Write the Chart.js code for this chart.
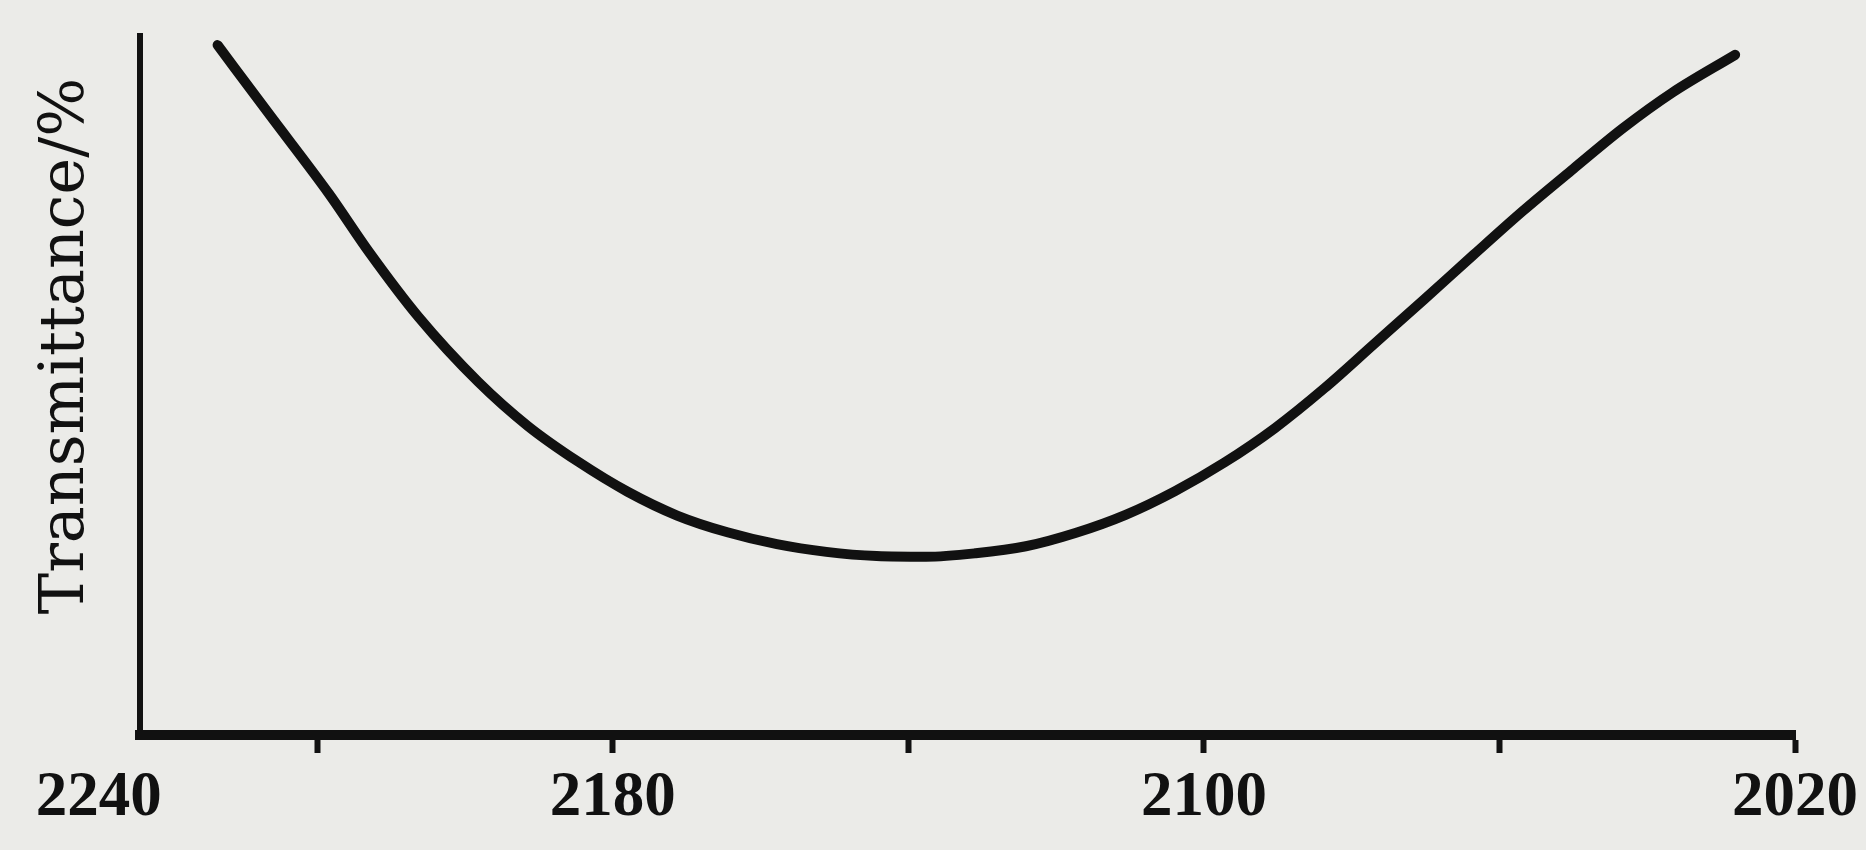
<!DOCTYPE html>
<html>
<head>
<meta charset="utf-8">
<script src="https://cdn.jsdelivr.net/npm/chart.js@4.4.1/dist/chart.umd.min.js"></script>
<style>
  html, body { margin: 0; padding: 0; background: #ebebe8; }
  #wrap { position: relative; width: 1866px; height: 850px; }
</style>
</head>
<body>
<div id="wrap"><canvas id="c"></canvas></div>
<script>
// Wavenumber (cm-1)
const wavenumbers = [2233.5, 2226.5, 2218.4, 2213.0, 2206.3, 2198.2, 2191.5, 2184.7, 2178.0, 2171.3, 2164.5, 2157.8, 2151.1, 2144.3, 2137.6, 2130.9, 2124.1, 2117.4, 2110.6, 2103.9, 2097.2, 2090.4, 2083.7, 2077.0, 2070.2, 2063.5, 2056.8, 2050.0, 2043.3, 2036.6, 2028.1];
// Transmittance (% of axis height, arbitrary)
const transmittance = [98.7, 88.8, 77.4, 69.1, 59.8, 50.5, 44.2, 39.1, 34.8, 31.4, 29.0, 27.3, 26.2, 25.6, 25.5, 26.0, 27.0, 28.9, 31.5, 34.9, 39.0, 43.9, 49.6, 55.9, 62.3, 68.7, 75.0, 81.0, 86.8, 91.9, 97.3];
// Tick marks on the x axis and their labels
const tickValues = [2240, 2220, 2180, 2140, 2100, 2060, 2020];
const tickLabels = ['2240', '', '2180', '', '2100', '', '2020'];
const hiddenTickMarks = [2240];
const yTitle = 'Transmittance/%';

const points = wavenumbers.map((w, i) => ({ x: w, y: transmittance[i] }));
const ink = '#111111';

new Chart(document.getElementById('c'), {
  type: 'line',
  data: {
    datasets: [{
      data: points,
      borderColor: ink,
      borderWidth: 10,
      pointRadius: 0,
      cubicInterpolationMode: 'monotone',
      borderCapStyle: 'round',
      borderJoinStyle: 'round',
      fill: false,
      clip: false
    }]
  },
  options: {
    responsive: true,
    maintainAspectRatio: false,
    animation: false,
    layout: { padding: { top: 36, right: 63, left: 0, bottom: 0 } },
    plugins: { legend: { display: false }, tooltip: { enabled: false } },
    scales: {
      x: {
        type: 'linear',
        min: 2020,
        max: 2244,
        reverse: true,
        afterFit(scale) { scale.height = 115; },
        afterBuildTicks(scale) { scale.ticks = tickValues.map(v => ({ value: v })); },
        border: { display: true, color: ink, width: 10 },
        grid: {
          drawOnChartArea: false,
          drawTicks: true,
          tickLength: 18,
          tickWidth: 6,
          tickColor: ctx => (ctx.tick && hiddenTickMarks.includes(ctx.tick.value)) ? 'rgba(0,0,0,0)' : ink
        },
        ticks: {
          autoSkip: false,
          maxRotation: 0,
          minRotation: 0,
          padding: 8,
          color: ink,
          font: { family: 'Liberation Serif', size: 63, weight: 'bold' },
          callback: (v) => {
            const i = tickValues.indexOf(v);
            if (i < 0) return '';
            const t = tickLabels[i];
            return v === 2240 ? t + '\u2003\u2003 ' : t;
          }
        }
      },
      y: {
        type: 'linear',
        min: 0,
        max: 100,
        afterFit(scale) { scale.width = 140; },
        border: { display: true, color: ink, width: 6 },
        grid: { drawOnChartArea: false, drawTicks: false },
        ticks: { display: false },
        title: {
          display: true,
          text: '    ' + yTitle,
          color: ink,
          font: { family: 'DejaVu Serif', size: 62 },
          padding: { top: 30, bottom: 0 }
        }
      }
    }
  }
});
</script>
</body>
</html>
